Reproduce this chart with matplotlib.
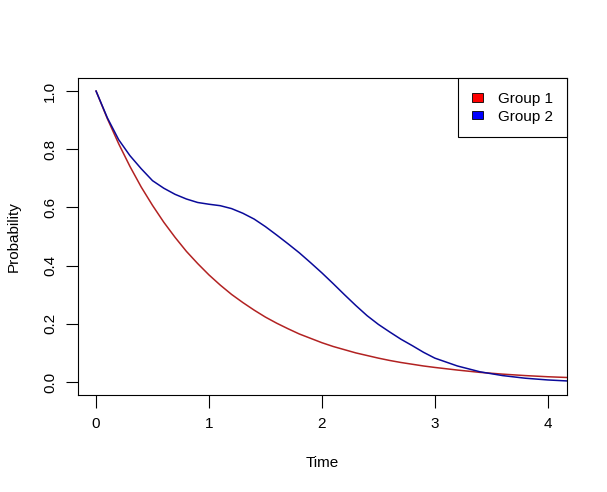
import matplotlib
matplotlib.use("Agg")
import matplotlib.pyplot as plt
from matplotlib.patches import Patch
from matplotlib.ticker import FormatStrFormatter

plt.rcParams['font.family'] = ['Liberation Sans', 'DejaVu Sans']

# Valores (probabilidad de supervivencia)
tiempo = [0.0, 0.1, 0.2, 0.3, 0.4, 0.5, 0.6, 0.7, 0.8, 0.9, 1.0,
          1.1, 1.2, 1.3, 1.4, 1.5, 1.6, 1.7, 1.8, 1.9, 2.0,
          2.1, 2.2, 2.3, 2.4, 2.5, 2.6, 2.7, 2.8, 2.9, 3.0,
          3.2, 3.4, 3.6, 3.8, 4.0, 4.2]
grupo1 = [1.0, 0.905, 0.819, 0.741, 0.670, 0.607, 0.549, 0.497, 0.449, 0.407, 0.368,
          0.333, 0.301, 0.273, 0.247, 0.223, 0.202, 0.183, 0.165, 0.150, 0.135,
          0.122, 0.111, 0.100, 0.091, 0.082, 0.074, 0.067, 0.061, 0.055, 0.050,
          0.041, 0.033, 0.027, 0.022, 0.018, 0.015]
grupo2 = [1.0, 0.908, 0.833, 0.778, 0.733, 0.692, 0.666, 0.645, 0.629, 0.617, 0.611,
          0.606, 0.596, 0.580, 0.560, 0.534, 0.505, 0.475, 0.444, 0.410, 0.375,
          0.338, 0.300, 0.263, 0.228, 0.198, 0.172, 0.147, 0.125, 0.102, 0.082,
          0.055, 0.035, 0.022, 0.013, 0.007, 0.003]

etiquetas = ['Group 1', 'Group 2']

fig = plt.figure(figsize=(6.07, 4.92), dpi=100)
ax = fig.add_axes([0.1285, 0.197, 0.8055, 0.6445])

ax.plot(tiempo, grupo1, color='#B22222', linewidth=1.1)
ax.plot(tiempo, grupo2, color='#0A0A9A', linewidth=1.1)

ax.set_xlim(-0.16, 4.17)
ax.set_ylim(-0.045, 1.045)
ax.set_xticks([0, 1, 2, 3, 4])
ax.set_yticks([0.0, 0.2, 0.4, 0.6, 0.8, 1.0])
ax.yaxis.set_major_formatter(FormatStrFormatter('%.1f'))
ax.tick_params(axis='both', labelsize=11, length=9, width=0.8, color='black')
ax.tick_params(axis='x', pad=7)
ax.tick_params(axis='y', pad=6)
for lab in ax.get_yticklabels():
    lab.set_rotation(90)
    lab.set_va('center')

for s in ax.spines.values():
    s.set_linewidth(0.8)
    s.set_color('black')

ax.set_xlabel('Time', fontsize=11, labelpad=18)
ax.set_ylabel('Probability', fontsize=11, labelpad=16)

handles = [Patch(facecolor='red', edgecolor='black', linewidth=0.6),
           Patch(facecolor='blue', edgecolor='black', linewidth=0.6)]
leg = ax.legend(handles, etiquetas, loc='upper right', fontsize=11,
                borderaxespad=0, fancybox=False, framealpha=1,
                edgecolor='black', handlelength=0.7, handleheight=0.5,
                handletextpad=1.0, borderpad=0.9, labelspacing=0.25)
leg.get_frame().set_linewidth(0.8)

fig.savefig('out.png', dpi=100)
